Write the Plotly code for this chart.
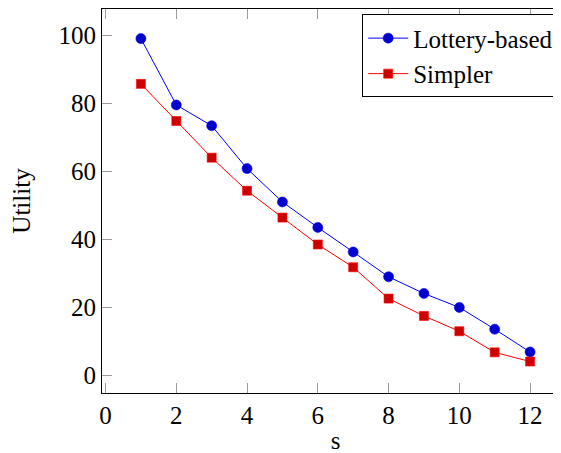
import plotly.graph_objects as go

s_values = [1, 2, 3, 4, 5, 6, 7, 8, 9, 10, 11, 12]
lottery_based = [99.0, 79.5, 73.4, 60.8, 51.0, 43.5, 36.3, 29.0, 24.1, 20.0, 13.6, 6.9]
simpler = [85.7, 74.8, 64.0, 54.3, 46.4, 38.5, 31.8, 22.6, 17.5, 13.0, 6.8, 4.1]

x_ticks = [0, 2, 4, 6, 8, 10, 12]
y_ticks = [0, 20, 40, 60, 80, 100]

FONT = "Liberation Serif, Times New Roman, serif"
FS = 25

fig = go.Figure()
fig.add_trace(go.Scatter(
    x=s_values, y=lottery_based, name="Lottery-based", mode="lines+markers",
    line=dict(color="rgb(0,0,255)", width=1),
    marker=dict(symbol="circle", size=10, color="rgb(0,0,204)",
                line=dict(color="rgb(0,0,255)", width=0.6)),
))
fig.add_trace(go.Scatter(
    x=s_values, y=simpler, name="Simpler", mode="lines+markers",
    line=dict(color="rgb(255,0,0)", width=1),
    marker=dict(symbol="square", size=9, color="rgb(204,0,0)",
                line=dict(color="rgb(255,0,0)", width=0.6)),
))

fig.update_layout(
    width=561, height=453,
    margin=dict(l=94, r=0, t=1, b=68),
    paper_bgcolor="white", plot_bgcolor="white",
    font=dict(family=FONT, size=FS, color="black"),
    showlegend=True,
    legend=dict(
        x=0.979, y=0.986, xanchor="right", yanchor="top",
        bgcolor="white", bordercolor="black", borderwidth=1,
        font=dict(family=FONT, size=FS, color="black"),
        itemwidth=40, tracegroupgap=0,
    ),
    xaxis=dict(
        range=[-0.1, 13.1], tickvals=x_ticks, ticktext=[str(v) for v in x_ticks],
        showgrid=False, zeroline=False,
        showline=True, linecolor="black", linewidth=1, mirror="allticks",
        ticks="inside", ticklen=10, tickwidth=1, tickcolor="#9a9a9a",
        tickfont=dict(family=FONT, size=FS, color="black"),
        title=dict(text="s", font=dict(family=FONT, size=FS), standoff=3),
    ),
    yaxis=dict(
        range=[-5.15, 107.7], tickvals=y_ticks, ticktext=[str(v) for v in y_ticks],
        showgrid=False, zeroline=False,
        showline=True, linecolor="black", linewidth=1, mirror="allticks",
        ticks="inside", ticklen=10, tickwidth=1, tickcolor="#9a9a9a",
        tickfont=dict(family=FONT, size=FS, color="black"),
        title=dict(text="Utility", font=dict(family=FONT, size=FS), standoff=22),
    ),
)

fig.write_html("out.html")
